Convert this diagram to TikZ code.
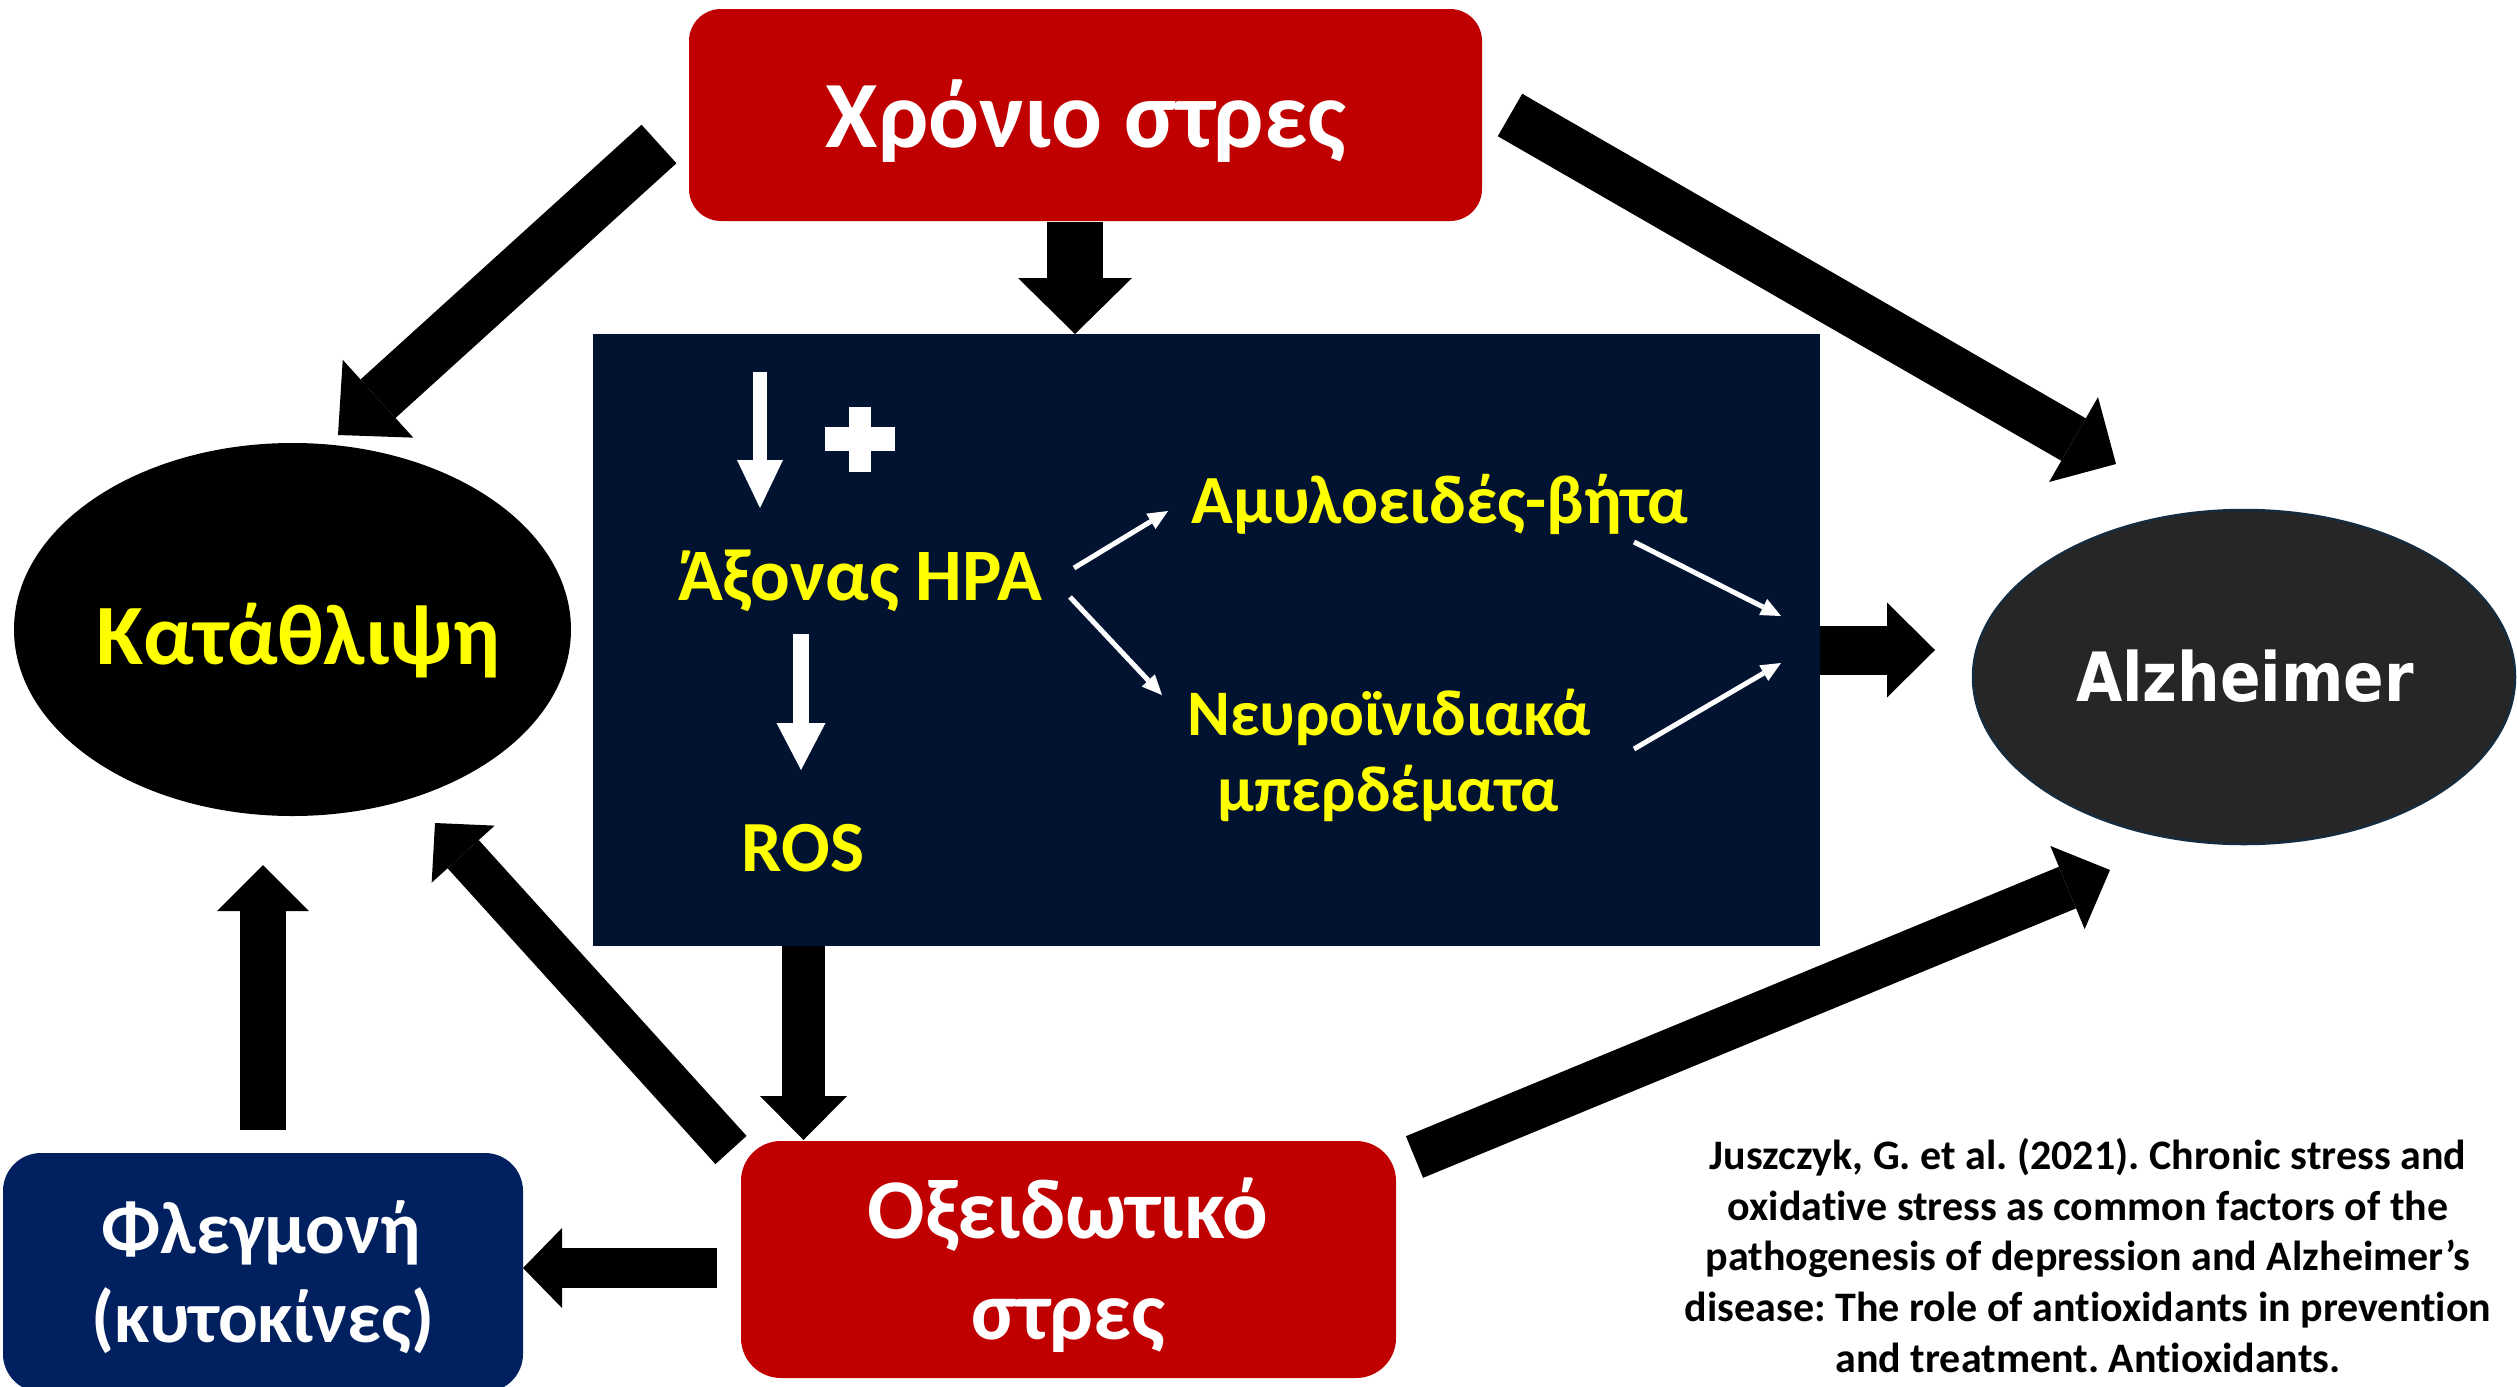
\documentclass[tikz,border=0pt]{standalone}
\usepackage{fontspec}
\setmainfont{Carlito}[Ligatures=NoCommon]
\newfontfamily\alzfont{DejaVu Sans}
\usetikzlibrary{arrows.meta,shapes.geometric}
\definecolor{boxred}{RGB}{192,0,0}
\definecolor{deepnavy}{RGB}{2,19,50}
\definecolor{fnavy}{RGB}{0,32,96}
\definecolor{alzgray}{RGB}{38,38,38}
\definecolor{alzedge}{RGB}{22,44,62}
\definecolor{hl}{RGB}{255,255,0}
\frenchspacing
\tikzset{
  fs/.style={font=\fontsize{#1}{#1}\selectfont\bfseries},
  txt/.style={inner sep=0pt, anchor=base},
  rbox/.style={rectangle, inner sep=0pt, rounded corners=#1},
  blk/.style n args={3}{draw=black, line width=#1, line cap=butt,
    -{Triangle[length=#3 0 0, width=#2 0 0, line width=0pt 0 0]}},
  wblk/.style n args={3}{draw=white, line width=#1, line cap=butt,
    -{Triangle[length=#3 0 0, width=#2 0 0, line width=0pt 0 0]}},
  thinw/.style={draw=white, line width=5pt, line cap=butt,
    -{Triangle[length=20pt 0 0, width=18pt 0 0, line width=0pt 0 0]}},
}
\begin{document}
\begin{tikzpicture}[x=1pt,y=-1pt]
\useasboundingbox (0,0) rectangle (2517,1387);

% ---- shapes ----
\node[rbox=32pt, fill=boxred, minimum width=793pt, minimum height=212pt] (cs) at (1085.5,115) {};
\node[rectangle, inner sep=0pt, fill=deepnavy, minimum width=1227pt, minimum height=612pt] (hpabox) at (1206.5,640) {};
\node[ellipse, inner sep=0pt, fill=black, minimum width=557pt, minimum height=373pt] (dep) at (292.5,629.5) {};
\node[ellipse, inner sep=0pt, fill=alzgray, draw=alzedge, line width=2.5pt, minimum width=542pt, minimum height=334pt] (alz) at (2244,677) {};
\node[rbox=38pt, fill=fnavy, minimum width=520pt, minimum height=239pt] (fl) at (263,1272.5) {};
\node[rbox=40pt, fill=boxred, minimum width=655pt, minimum height=237pt] (ox) at (1068.5,1259.5) {};

% ---- texts ----
\node[txt, fs=95, white] (cs-t) at (1086,147) {Χρόνιο στρες};
\node[txt, fs=86, hl] (dep-t) at (298,664) {Κατάθλιψη};
\node[txt, white, font=\alzfont\fontsize{68}{68}\selectfont\bfseries] (alz-t) at (2245,701) {\scalebox{0.88}[1]{Alzheimer}};
\node[txt, fs=74, hl] (hpa) at (860,600) {Άξονας HPA};
\node[txt, fs=72, hl] (ros) at (803,871) {ROS};
\node[txt, fs=69, hl] (amy) at (1440,523) {Αμυλοειδές-βήτα};
\node[txt, fs=65, hl] (neu1) at (1389,735) {Νευροϊνιδιακά};
\node[txt, fs=65, hl] (neu2) at (1388,811) {μπερδέματα};
\node[txt, fs=74, white] (fl1) at (261,1253) {Φλεγμονή};
\node[txt, fs=74, white] (fl2) at (263,1342) {(κυτοκίνες)};
\node[txt, fs=85, white] (ox1) at (1068,1238) {Οξειδωτικό};
\node[txt, fs=83, white] (ox2) at (1068,1339) {στρες};

\node[txt, fs=42, black] (c1) at (2088,1169) {Juszczyk, G. et al. (2021). Chronic stress and};
\node[txt, fs=42, black] (c2) at (2088,1220) {oxidative stress as common factors of the};
\node[txt, fs=42, black] (c3) at (2088,1270) {pathogenesis of depression and Alzheimer’s};
\node[txt, fs=42, black] (c4) at (2088,1321) {disease: The role of antioxidants in prevention};
\node[txt, fs=42, black] (c5) at (2088,1372) {and treatment. Antioxidants.};

% ---- plus sign ----
\fill[white] (849,407) rectangle (871,472);
\fill[white] (825,427) rectangle (895,451);

% ---- arrow end points ----
\coordinate (a1s) at (1075,222);   \coordinate (a1e) at (1075,334);
\coordinate (a2s) at (659,144);    \coordinate (a2e) at (338,435);
\coordinate (a3s) at (1510,115);   \coordinate (a3e) at (2116,464);
\coordinate (a4s) at (1820,650);   \coordinate (a4e) at (1935,650);
\coordinate (a5s) at (803.5,946);  \coordinate (a5e) at (803.5,1140);
\coordinate (a6s) at (731,1150);   \coordinate (a6e) at (435,823);
\coordinate (a7s) at (263,1130);   \coordinate (a7e) at (263,865);
\coordinate (a8s) at (717,1268);   \coordinate (a8e) at (523,1268);
\coordinate (a9s) at (1414.5,1157);\coordinate (a9e) at (2110,870);

\coordinate (w1s) at (760,372);    \coordinate (w1e) at (760,508);
\coordinate (w2s) at (801,634);    \coordinate (w2e) at (801,770);

\coordinate (t1s) at (1074,568);   \coordinate (t1e) at (1168,511);
\coordinate (t2s) at (1070,597);   \coordinate (t2e) at (1162,695);
\coordinate (t3s) at (1634,542);   \coordinate (t3e) at (1781,616);
\coordinate (t4s) at (1634,749);   \coordinate (t4e) at (1781,663);

% ---- black block arrows ----
\draw[blk={56pt}{114pt}{56pt}] (a1s) -- (a1e);
\draw[blk={52pt}{105pt}{54pt}] (a2s) -- (a2e);
\draw[blk={49pt}{98pt}{49pt}] (a3s) -- (a3e);
\draw[blk={49pt}{95pt}{48pt}] (a4s) -- (a4e);
\draw[blk={43pt}{87pt}{44pt}] (a5s) -- (a5e);
\draw[blk={42pt}{85pt}{42pt}] (a6s) -- (a6e);
\draw[blk={46pt}{92pt}{46pt}] (a7s) -- (a7e);
\draw[blk={40pt}{80pt}{39pt}] (a8s) -- (a8e);
\draw[blk={45pt}{90pt}{46pt}] (a9s) -- (a9e);

% ---- white arrows inside ----
\draw[wblk={14pt}{46pt}{48pt}] (w1s) -- (w1e);
\draw[wblk={16pt}{49pt}{47pt}] (w2s) -- (w2e);
\draw[thinw] (t1s) -- (t1e);
\draw[thinw] (t2s) -- (t2e);
\draw[thinw] (t3s) -- (t3e);
\draw[thinw] (t4s) -- (t4e);
\end{tikzpicture}
\end{document}
